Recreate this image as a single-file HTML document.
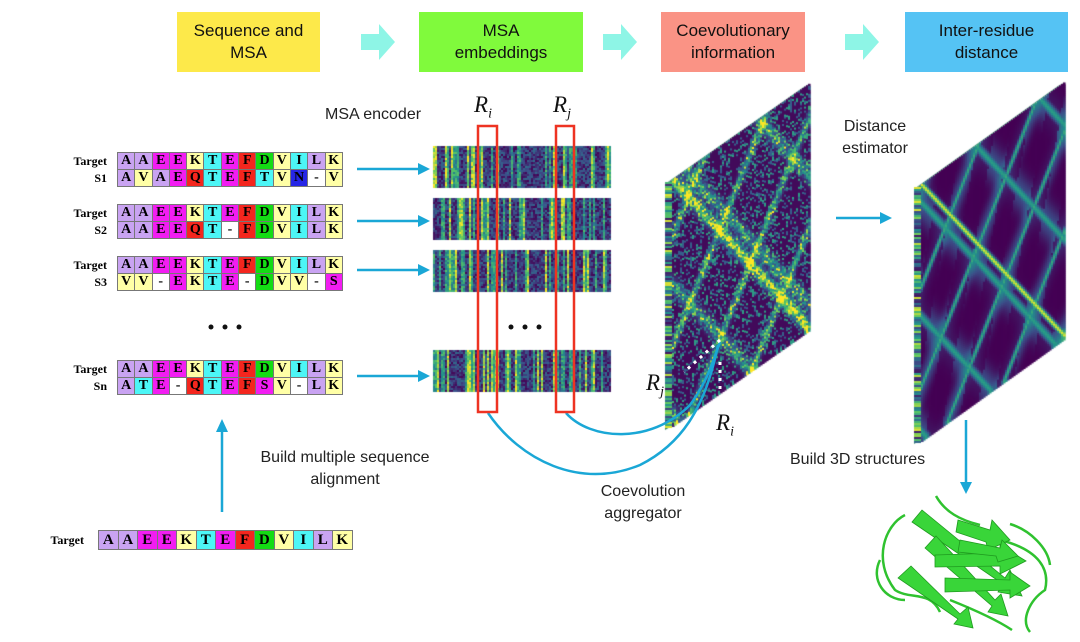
<!DOCTYPE html>
<html><head><meta charset="utf-8"><style>
html,body{margin:0;padding:0;background:#fff;}
body{width:1080px;height:642px;position:relative;overflow:hidden;font-family:"Liberation Sans",sans-serif;}
canvas{position:absolute;left:0;top:0;}
.hb{position:absolute;top:12px;height:60px;display:flex;align-items:center;justify-content:center;text-align:center;font-size:17px;line-height:22px;color:#111;}
.t{position:absolute;font-size:16px;color:#222;text-align:center;line-height:22px;}
.r{position:absolute;font-family:"Liberation Serif",serif;font-style:italic;font-size:23px;color:#111;}
.r sub{font-size:14px;}
.aln{position:absolute;border-collapse:collapse;font-family:"Liberation Serif",serif;font-weight:bold;font-size:14px;}
.aln td{width:16.3px;height:16px;padding:0;text-align:center;border:1px solid #777;line-height:16px;}
.aln.big td{width:18.5px;height:18px;line-height:18px;font-size:15px;}
.lab{position:absolute;font-family:"Liberation Serif",serif;font-weight:bold;font-size:12px;text-align:right;width:60px;line-height:17px;}
</style></head><body>
<canvas id="c" width="1080" height="642"></canvas>
<div class="hb" style="left:177px;width:143px;background:#fde94a">Sequence and<br>MSA</div>
<div class="hb" style="left:419px;width:164px;background:#80fa3c">MSA<br>embeddings</div>
<div class="hb" style="left:661px;width:144px;background:#fa9385">Coevolutionary<br>information</div>
<div class="hb" style="left:905px;width:163px;background:#55c3f4">Inter-residue<br>distance</div>
<svg width="1080" height="642" style="position:absolute;left:0;top:0">
<g fill="#8ef5e6">
<polygon points="361,34 379,34 379,24 395,42 379,60 379,50 361,50"/>
<polygon points="603,34 621,34 621,24 637,42 621,60 621,50 603,50"/>
<polygon points="845,34 863,34 863,24 879,42 863,60 863,50 845,50"/>
</g>
<g stroke="#1aa7d6" stroke-width="2.5" fill="none">
<line x1="357" y1="169" x2="418" y2="169"/>
<line x1="357" y1="221" x2="418" y2="221"/>
<line x1="357" y1="270" x2="418" y2="270"/>
<line x1="357" y1="376" x2="418" y2="376"/>
<line x1="222" y1="512" x2="222" y2="432"/>
<line x1="836" y1="218" x2="880" y2="218"/>
<line x1="966" y1="420" x2="966" y2="482"/>
<path d="M488,413 C520,460 580,490 640,465 C680,445 705,410 718,345"/>
<path d="M566,413 C590,440 650,445 690,405 C705,385 712,365 720,342"/>
</g>
<g fill="#1aa7d6">
<polygon points="418,163 430,169 418,175"/>
<polygon points="418,215 430,221 418,227"/>
<polygon points="418,264 430,270 418,276"/>
<polygon points="418,370 430,376 418,382"/>
<polygon points="216,432 222,419 228,432"/>
<polygon points="880,212 892,218 880,224"/>
<polygon points="960,482 966,494 972,482"/>
</g>
<rect x="478" y="126" width="19" height="286" fill="none" stroke="#ee3322" stroke-width="2.5"/>
<rect x="556" y="126" width="18" height="286" fill="none" stroke="#ee3322" stroke-width="2.5"/>
<g stroke="#fff" stroke-width="3" stroke-dasharray="3,5" fill="none">
<line x1="720" y1="340" x2="684" y2="372"/>
<line x1="720" y1="362" x2="720" y2="392"/>
</g>
<g fill="#111">
<circle cx="211" cy="327" r="2.5"/><circle cx="225" cy="327" r="2.5"/><circle cx="239" cy="327" r="2.5"/>
<circle cx="511" cy="327" r="2.5"/><circle cx="525" cy="327" r="2.5"/><circle cx="539" cy="327" r="2.5"/>
</g>
<!-- protein -->
<g stroke="#2fc22f" stroke-width="2.5" fill="none">
<path d="M905,515 C885,525 872,560 895,590 C910,600 930,590 940,612 M936,496 C945,512 960,520 980,525 M1000,540 C1040,550 1050,570 1045,590 C1030,600 1020,620 1030,632 M880,560 C870,580 885,600 905,600 M950,600 C980,612 1000,622 1012,630 M1010,524 C1030,530 1048,548 1050,565"/>
</g>
<g fill="#39d539" stroke="#1f9a1f" stroke-width="0.8">
<polygon points="912,522 922,510 1005,578 1010,570 1022,596 998,592 1003,584"/>
<polygon points="925,548 936,536 995,600 1001,594 1008,616 988,612 992,606"/>
<polygon points="898,578 911,566 960,614 968,607 973,628 954,624 958,619"/>
<polygon points="935,555 1000,553 1000,545 1026,561 1000,574 1000,566 935,567"/>
<polygon points="958,520 990,530 992,520 1010,540 988,550 986,542 956,532"/>
<polygon points="945,578 1010,580 1010,572 1030,586 1010,598 1010,590 945,592"/>
<polygon points="960,540 1000,548 1002,540 1018,556 998,562 996,556 958,552"/>
</g>
</svg>
<div class="t" style="left:325px;top:104px;width:120px;text-align:left">MSA encoder</div>
<div class="t" style="left:810px;top:116px;width:130px">Distance<br>estimator</div>
<div class="t" style="left:225px;top:447px;width:240px">Build multiple sequence<br>alignment</div>
<div class="t" style="left:573px;top:481px;width:140px">Coevolution<br>aggregator</div>
<div class="t" style="left:790px;top:449px;width:180px;text-align:left">Build 3D structures</div>
<div class="r" style="left:474px;top:92px">R<sub>i</sub></div>
<div class="r" style="left:553px;top:92px">R<sub>j</sub></div>
<div class="r" style="left:646px;top:370px">R<sub>j</sub></div>
<div class="r" style="left:716px;top:410px">R<sub>i</sub></div>
<div id="al"></div>
<script>
var col={A:'#c9a3f2',E:'#f21df2',K:'#ffffa6',T:'#4cf6f6',F:'#f4261e',D:'#14dc14',V:'#ffffa6',I:'#4cf6f6',L:'#c9a3f2',Q:'#f4261e',N:'#2626e6',S:'#f21df2','-':'#ffffff'};
var T='AAEEKTEFDVILK';
var groups=[[152,'S1','AVAEQTEFTVN-V'],[204,'S2','AAEEQT-FDVILK'],[256,'S3','VV-EKTE-DVV-S'],[360,'Sn','ATE-QTEFSV-LK']];
var h='';
function tbl(x,y,rows,cl){var s='<table class="aln '+(cl||'')+'" style="left:'+x+'px;top:'+y+'px">';rows.forEach(function(r){s+='<tr>';for(var i=0;i<r.length;i++)s+='<td style="background:'+col[r[i]]+'">'+r[i]+'</td>';s+='</tr>';});return s+'</table>';}
groups.forEach(function(g){h+=tbl(117,g[0],[T,g[2]]);h+='<div class="lab" style="left:47px;top:'+(g[0]+1)+'px">Target<br>'+g[1]+'</div>';});
h+=tbl(98,530,[T],'big');h+='<div class="lab" style="left:24px;top:532px">Target</div>';
document.getElementById('al').innerHTML=h;
var c=document.getElementById('c').getContext('2d');
function vir(t){t=Math.max(0,Math.min(1,t));var s=[[68,1,84],[59,82,139],[33,145,140],[94,201,98],[253,231,37]];var f=t*4,i=Math.min(3,Math.floor(f)),r=f-i;var a=s[i],b=s[i+1];return 'rgb('+Math.round(a[0]+(b[0]-a[0])*r)+','+Math.round(a[1]+(b[1]-a[1])*r)+','+Math.round(a[2]+(b[2]-a[2])*r)+')';}
var seed=7;function rnd(){seed=(seed*16807)%2147483647;return seed/2147483647;}
[[146,187],[198,240],[250,291],[350,392]].forEach(function(b){
 for(var x=433;x<611;x+=2){var base=rnd();var v=base<0.15?0.85:(base<0.35?0.55:0.18);
  for(var y=b[0];y<b[1];y+=2){c.fillStyle=vir(v+(rnd()-0.5)*0.35);c.fillRect(x,y,2,2);}}
});
function panel(x0,y0,W,H,sl,fn,cell){
 c.fillStyle='#3a8a6a';c.beginPath();c.moveTo(x0,y0);c.lineTo(x0-7,y0+4);c.lineTo(x0-7,y0+H+4);c.lineTo(x0,y0+H);c.fill();
 c.beginPath();c.moveTo(x0,y0);c.lineTo(x0-7,y0+4);c.lineTo(x0+W-7,y0+4-sl*W);c.lineTo(x0+W,y0-sl*W);c.fill();
 for(var u=0;u<W;u+=cell)for(var v=0;v<H;v+=cell){var val=fn(u/W,v/H);c.fillStyle=vir(val);c.fillRect(x0+u,y0+v-sl*u-1,cell+0.6,cell+2);}
 for(var v=0;v<H;v+=2){c.fillStyle=vir(0.5+(rnd()-0.5)*0.9);c.fillRect(x0-7,y0+v+2,7,2);}
}
panel(672,180,138,246,0.70,function(u,v){
 var d=(u-v);var s=Math.exp(-d*d*900)*0.75;
 var p=Math.pow(Math.abs(Math.sin((u+v)*7)),40)*0.5;var q=Math.pow(Math.abs(Math.sin((u-v)*6+1)),40)*0.4;
 var n=rnd();var base=(n<0.12?0.55:(n<0.3?0.3:0.03));
 return base+(s+p+q)*(0.5+rnd());},2);
panel(921,185,144,255,0.715,function(u,v){
 var d=Math.abs(u-v);var s=Math.exp(-d*d*4000)*0.95;
 var p=Math.pow(Math.abs(Math.cos((u+v)*8)),60)*0.6;var q=Math.pow(Math.abs(Math.cos((u-v)*7+0.5)),60)*0.55;
 var halo=(Math.pow(Math.abs(Math.cos((u+v)*8)),6)+Math.pow(Math.abs(Math.cos((u-v)*7+0.5)),6))*0.25;
 return Math.max(s,p,q,halo*(Math.sin(u*25+v*9)>0?1:0.3));},2);
</script>
</body></html>
